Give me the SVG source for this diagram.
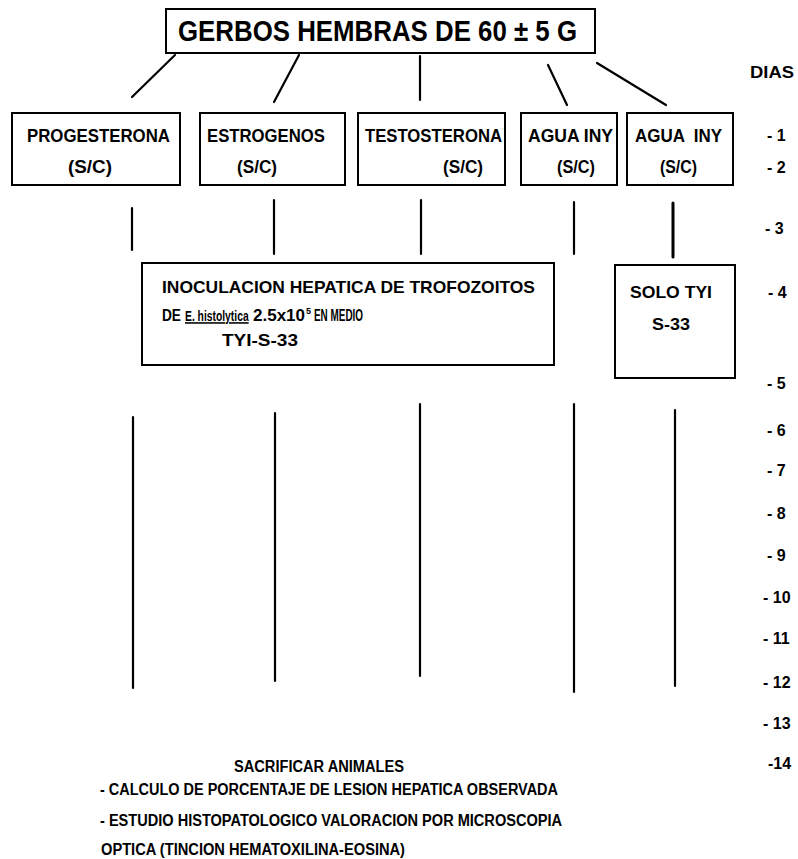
<svg xmlns="http://www.w3.org/2000/svg" width="798" height="859" viewBox="0 0 798 859">
<style>
  .box{fill:none;stroke:#000;stroke-width:2}
  .ln{fill:none;stroke:#000;stroke-width:2.2;stroke-linecap:round}
  .thick{stroke-width:3}
  text{font-family:"Liberation Sans",Arial,Helvetica,sans-serif;font-weight:bold;fill:#000}
  .t{font-size:29px}
  .b{font-size:18px}
  .d{font-size:16px}
  .m{font-size:17px}
  .m2{font-size:16px}
  .f{font-size:16px}
</style>
<rect width="798" height="859" fill="#fff"/>

<g id="title">
  <rect class="box" x="166" y="9" width="429" height="44"/>
  <text class="t" x="178" y="41" textLength="399" lengthAdjust="spacingAndGlyphs">GERBOS HEMBRAS DE 60 ± 5 G</text>
</g>

<g id="connectors">
  <line class="ln" x1="175" y1="55" x2="132" y2="97"/>
  <line class="ln" x1="299" y1="55" x2="274" y2="102"/>
  <line class="ln" x1="420" y1="56" x2="420" y2="100"/>
  <line class="ln" x1="548" y1="65" x2="567" y2="105"/>
  <line class="ln" x1="597" y1="63" x2="666" y2="105"/>

  <line class="ln" x1="132" y1="208" x2="132" y2="250"/>
  <line class="ln" x1="274" y1="200" x2="274" y2="254"/>
  <line class="ln" x1="421" y1="200" x2="421" y2="254"/>
  <line class="ln" x1="574" y1="202" x2="574" y2="254"/>
  <line class="ln thick" x1="673" y1="203" x2="673" y2="257"/>

  <line class="ln" x1="133" y1="417" x2="133" y2="688"/>
  <line class="ln" x1="275" y1="413" x2="275" y2="681"/>
  <line class="ln" x1="420" y1="404" x2="420" y2="676"/>
  <line class="ln" x1="574" y1="404" x2="574" y2="692"/>
  <line class="ln" x1="675" y1="410" x2="675" y2="686"/>
</g>

<g id="progesterona">
  <rect class="box" x="12" y="113" width="168" height="72"/>
  <text class="b" x="27" y="142" textLength="143" lengthAdjust="spacingAndGlyphs">PROGESTERONA</text>
  <text class="b" x="68" y="173" textLength="44" lengthAdjust="spacingAndGlyphs">(S/C)</text>
</g>
<g id="estrogenos">
  <rect class="box" x="200" y="113" width="145" height="72"/>
  <text class="b" x="207" y="142" textLength="118" lengthAdjust="spacingAndGlyphs">ESTROGENOS</text>
  <text class="b" x="237" y="173" textLength="40" lengthAdjust="spacingAndGlyphs">(S/C)</text>
</g>
<g id="testosterona">
  <rect class="box" x="358" y="113" width="147" height="72"/>
  <text class="b" x="365" y="142" textLength="137" lengthAdjust="spacingAndGlyphs">TESTOSTERONA</text>
  <text class="b" x="443" y="173" textLength="40" lengthAdjust="spacingAndGlyphs">(S/C)</text>
</g>
<g id="agua1">
  <rect class="box" x="521" y="113" width="96" height="72"/>
  <text class="b" x="528" y="142" textLength="85" lengthAdjust="spacingAndGlyphs">AGUA INY</text>
  <text class="b" x="557" y="173" textLength="38" lengthAdjust="spacingAndGlyphs">(S/C)</text>
</g>
<g id="agua2">
  <rect class="box" x="627" y="113" width="106" height="72"/>
  <text class="b" x="635" y="142" textLength="87" lengthAdjust="spacingAndGlyphs" xml:space="preserve">AGUA  INY</text>
  <text class="b" x="660" y="173" textLength="37" lengthAdjust="spacingAndGlyphs">(S/C)</text>
</g>

<g id="inoculacion">
  <rect class="box" x="142" y="263" width="412" height="102"/>
  <text class="m" x="162" y="293" textLength="373" lengthAdjust="spacingAndGlyphs">INOCULACION HEPATICA DE TROFOZOITOS</text>
  <text class="m2" x="162" y="321" textLength="19" lengthAdjust="spacingAndGlyphs">DE</text>
  <text transform="translate(185,321) scale(0.67,1)" x="0" y="0" font-size="15.5" textLength="95" lengthAdjust="spacingAndGlyphs" text-decoration="underline">E. histolytica</text>
  <text class="m2" x="253" y="321" textLength="52" lengthAdjust="spacingAndGlyphs">2.5x10</text>
  <text x="306" y="314" font-size="9">5</text>
  <text class="m2" x="314" y="321" textLength="49" lengthAdjust="spacingAndGlyphs">EN MEDIO</text>
  <text class="m" x="222" y="346" textLength="76" lengthAdjust="spacingAndGlyphs">TYI-S-33</text>
</g>

<g id="solo">
  <rect class="box" x="615" y="265" width="120" height="113"/>
  <text class="m" x="630" y="298" textLength="82" lengthAdjust="spacingAndGlyphs">SOLO TYI</text>
  <text class="m" x="652" y="330" textLength="38" lengthAdjust="spacingAndGlyphs">S-33</text>
</g>

<g id="dias">
  <text class="d" x="750" y="78" textLength="44" lengthAdjust="spacingAndGlyphs">DIAS</text>
  <text class="d" x="767" y="141">- 1</text>
  <text class="d" x="767" y="173">- 2</text>
  <text class="d" x="765" y="234">- 3</text>
  <text class="d" x="768" y="298">- 4</text>
  <text class="d" x="767" y="389">- 5</text>
  <text class="d" x="767" y="436">- 6</text>
  <text class="d" x="767" y="476">- 7</text>
  <text class="d" x="767" y="519">- 8</text>
  <text class="d" x="767" y="561">- 9</text>
  <text class="d" x="763" y="603">- 10</text>
  <text class="d" x="763" y="644">- 11</text>
  <text class="d" x="763" y="688">- 12</text>
  <text class="d" x="763" y="729">- 13</text>
  <text class="d" x="768" y="769">-14</text>
</g>

<g id="final">
  <text class="f" x="234" y="772" textLength="170" lengthAdjust="spacingAndGlyphs">SACRIFICAR ANIMALES</text>
  <text class="f" x="100" y="795" textLength="458" lengthAdjust="spacingAndGlyphs">- CALCULO DE PORCENTAJE DE LESION HEPATICA OBSERVADA</text>
  <text class="f" x="100" y="826" textLength="462" lengthAdjust="spacingAndGlyphs">- ESTUDIO HISTOPATOLOGICO VALORACION POR MICROSCOPIA</text>
  <text class="f" x="101" y="855" textLength="304" lengthAdjust="spacingAndGlyphs">OPTICA (TINCION HEMATOXILINA-EOSINA)</text>
</g>
</svg>
